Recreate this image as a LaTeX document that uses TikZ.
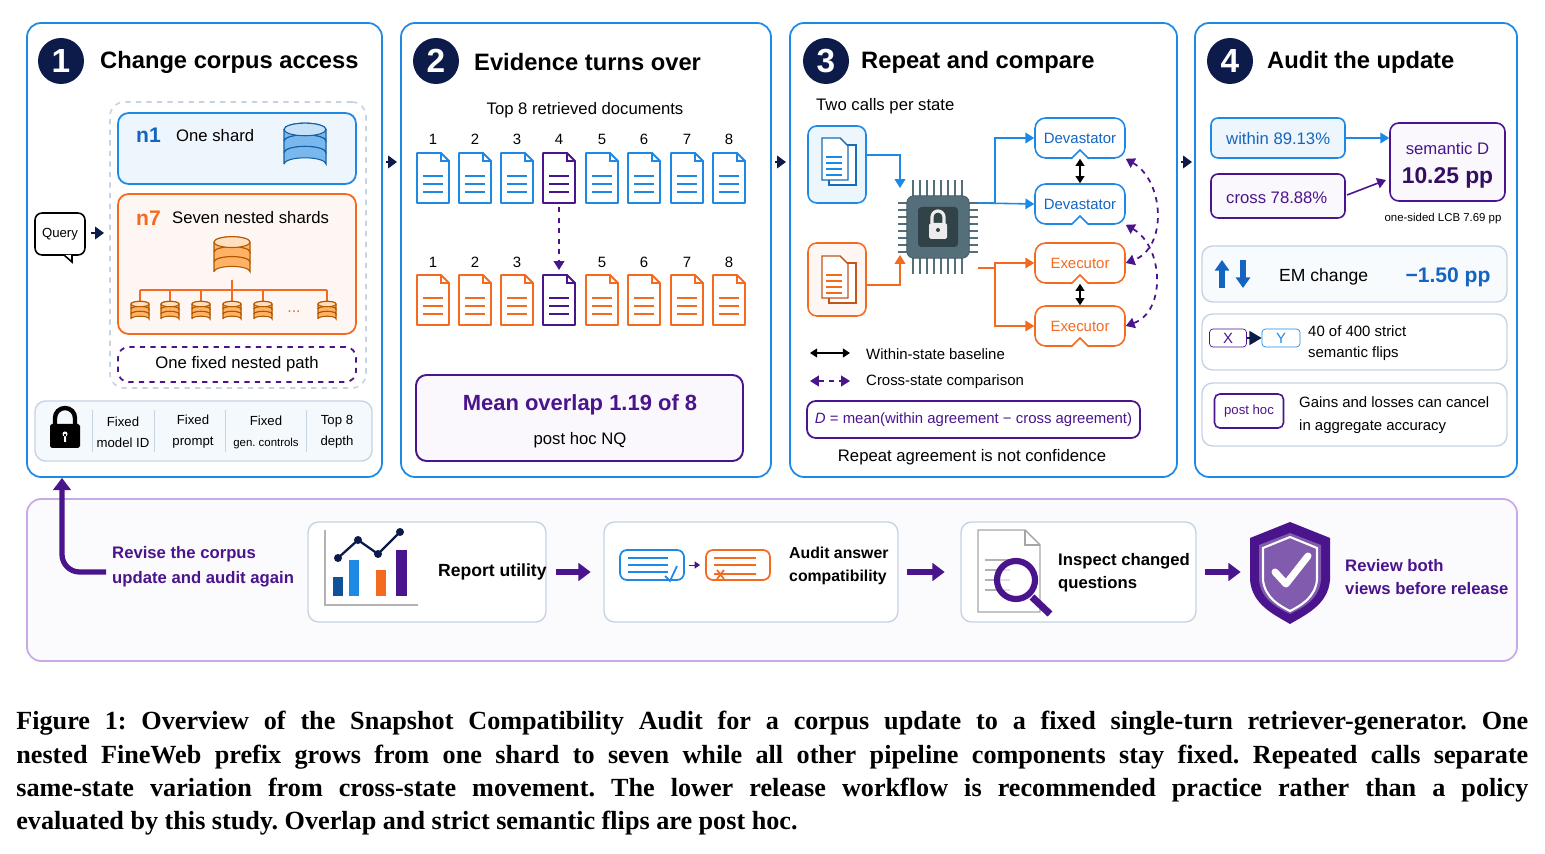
\documentclass[tikz,border=0pt]{standalone}
\usepackage{fontspec}
\setmainfont{Liberation Sans}
\newfontfamily\capfont{Liberation Serif}
\usetikzlibrary{arrows.meta,fit,positioning}
\definecolor{navy}{HTML}{0D1B4A}
\definecolor{pblue}{HTML}{1E88E5}
\definecolor{dblue}{HTML}{1565C0}
\definecolor{porange}{HTML}{F46A1F}
\definecolor{ppurple}{HTML}{4A148C}
\definecolor{lpurple}{HTML}{C9A8E8}
\definecolor{lgray}{HTML}{C5D3E3}
\definecolor{chipgray}{HTML}{546E7A}
\frenchspacing
\tikzset{
    panel/.style = {draw=pblue, line width=1pt, rounded corners=8pt, inner sep=0pt},
    card/.style = {draw=lgray, line width=0.8pt, rounded corners=6pt, inner sep=0pt},
    numdot/.style = {circle, fill=navy, text=white, minimum size=0.92cm, inner sep=0pt, font=\fontsize{19}{19}\selectfont\bfseries},
    ptitle/.style = {anchor=west, font=\fontsize{13.5}{14}\selectfont\bfseries, text=black},
    body/.style = {font=\fontsize{9.5}{11}\selectfont, align=left},
    small/.style = {font=\fontsize{7.5}{12}\selectfont, align=center},
    bubble/.style = {draw, rounded corners=6pt, line width=0.9pt, fill=white, minimum width=1.8cm, minimum height=0.8cm, font=\fontsize{8.5}{10}\selectfont},
    flow/.style = {-{Triangle[length=5pt,width=6pt]}, line width=0.9pt},
    step arrow/.style = {-{Triangle[length=7pt,width=10pt]}, line width=3pt, ppurple},
    hop/.style = {-{Triangle[length=5pt,width=7pt]}, navy, line width=1.2pt},
    bold purple/.style = {font=\fontsize{10}{14}\selectfont\bfseries, text=ppurple, align=left, anchor=west},
    bold black/.style = {font=\fontsize{10}{14}\selectfont\bfseries, align=left, anchor=west},
    pics/doc/.style = {code={
        \draw[#1, line width=1.1pt, fill=white, line join=round] (-16,-25) -- (8,-25) -- (16,-17) -- (16,25) -- (-16,25) -- cycle;
        \draw[#1, line width=0.9pt] (8,-25) -- (8,-17) -- (16,-17);
        \foreach \yy in {-2,6,14} \draw[#1, line width=1.1pt] (-10,\yy) -- (10,\yy);
    }},
    pics/db/.style 2 args = {code={
        \foreach \yy in {2,1,0} {
            \draw[#1!70!black, fill=#1!60, line width=0.6pt] (-#2,\yy*#2*0.55) -- (-#2,\yy*#2*0.55-#2*0.55) arc[start angle=180, end angle=360, x radius=#2, y radius=#2*0.3] -- (#2,\yy*#2*0.55) arc[start angle=0, end angle=-180, x radius=#2, y radius=#2*0.3];
        }
        \draw[#1!70!black, fill=#1!25, line width=0.6pt] (0,-#2*0.55) ellipse[x radius=#2, y radius=#2*0.3];
    }}
}
\begin{document}
\begin{tikzpicture}[x=0.02cm, y=-0.02cm]
\useasboundingbox (0,0) rectangle (1545,854);

% ---- four panels
\node[panel, fit={(27,23) (382,477)}] (p1) {};
\node[panel, fit={(401,23) (771,477)}] (p2) {};
\node[panel, fit={(790,23) (1177,477)}] (p3) {};
\node[panel, fit={(1195,23) (1517,477)}] (p4) {};
\draw[hop] (386,162) -- (397,162);
\draw[hop] (775,162) -- (786,162);
\draw[hop] (1181,162) -- (1192,162);

\node[numdot] (c1) at (61,61) {1};
\node[ptitle] at (94,62) {Change corpus access};
\node[numdot] (c2) at (436,61) {2};
\node[ptitle] at (468,62) {Evidence turns over};
\node[numdot] (c3) at (826,61) {3};
\node[ptitle] at (855,62) {Repeat and compare};
\node[numdot] (c4) at (1230,61) {4};
\node[ptitle] at (1261,62) {Audit the update};

% ---- panel 1
\node[draw=lgray, dashed, line width=0.9pt, rounded corners=8pt, inner sep=0pt, fit={(110,102) (366,388)}] (nest) {};
\node[draw=pblue, fill=pblue!8, line width=1pt, rounded corners=6pt, inner sep=0pt, fit={(118,113) (356,184)}] (n1) {};
\node[anchor=west, text=dblue, font=\fontsize{12}{12}\selectfont\bfseries] at (130,135) {n1};
\node[body, anchor=west] at (170,136) {One shard};
\pic at (305,141) {db={pblue}{21}};
\node[draw=porange, fill=porange!6, line width=1pt, rounded corners=6pt, inner sep=0pt, fit={(118,194) (356,334)}] (n7) {};
\node[anchor=west, text=porange, font=\fontsize{12}{12}\selectfont\bfseries] at (130,218) {n7};
\node[body, anchor=west] at (166,218) {Seven nested shards};
\pic at (232,252) {db={orange}{18}};
\draw[porange, line width=0.9pt] (232,280) -- (232,290) (140,290) -- (327,290);
\foreach \xx in {140,170,201,232,263,327} {
    \draw[porange, line width=0.9pt] (\xx,290) -- (\xx,302);
    \pic at (\xx,309) {db={orange}{9}};
}
\node[text=porange, font=\small] at (294,312) {...};
\node[draw=ppurple, dashed, line width=1pt, rounded corners=6pt, inner sep=0pt, fit={(118,347) (356,382)}] (path) {};
\node[body] at (path) {One fixed nested path};
\node[draw, line width=0.9pt, rounded corners=4pt, minimum width=1cm, minimum height=0.84cm, font=\fontsize{7.5}{8}\selectfont] (query) at (60,234) {Query};
\draw[fill=white, line width=0.9pt] (64,255) -- (72,262) -- (72,255);
\draw[hop] (91,233) -- (104,233);
\node[card, fill=pblue!5, fit={(35,401) (372,461)}] (fixed) {};
\fill[black, rounded corners=1pt] (50,424) rectangle (80,448);
\draw[black, line width=2.5pt] (55,425) -- (55,418) arc[start angle=180, end angle=360, radius=10] -- (75,425);
\fill[white] (65,434) circle (2.5) (64,434) rectangle (66,442);
\foreach \xx in {92,154,225,306} \draw[lgray] (\xx,410) -- (\xx,452);
\node[small] at (123,432) {Fixed\\model ID};
\node[small] at (193,432) {Fixed\\prompt};
\node[small] at (266,432) {Fixed\\{\fontsize{6.5}{8}\selectfont gen. controls}};
\node[small] at (337,432) {Top 8\\depth};

% ---- panel 2
\node[body] at (585,110) {Top 8 retrieved documents};
\foreach \xx [count=\i] in {433,475,517,559,602,644,687,729} {
    \node[small, font=\fontsize{8.5}{9}\selectfont] (top\i) at (\xx,139) {\i};
    \ifnum\i=4
        \pic at (\xx,178) {doc=ppurple};
        \pic at (\xx,300) {doc=ppurple};
    \else
        \node[small, font=\fontsize{8.5}{9}\selectfont] (bot\i) at (\xx,262) {\i};
        \pic at (\xx,178) {doc=pblue};
        \pic at (\xx,300) {doc=porange};
    \fi
}
\coordinate (old4) at (559,207);
\coordinate (new4) at (559,270);
\draw[ppurple, dashed, line width=1pt, -{Triangle[length=5pt,width=6pt]}] (old4) -- (new4);
\node[draw=ppurple, fill=ppurple!3, line width=1.1pt, rounded corners=6pt, inner sep=0pt, fit={(416,375) (743,461)}] (overlap) {};
\node[text=ppurple, font=\fontsize{12.5}{13}\selectfont\bfseries] at (580,405) {Mean overlap 1.19 of 8};
\node[body] at (580,440) {post hoc NQ};

% ---- panel 3
\node[body, anchor=west] at (810,106) {Two calls per state};
\node[draw=pblue, fill=pblue!8, line width=0.9pt, rounded corners=5pt, inner sep=0pt, fit={(808,126) (866,203)}] (bdoc) {};
\node[draw=porange, fill=porange!6, line width=0.9pt, rounded corners=5pt, inner sep=0pt, fit={(808,243) (866,316)}] (odoc) {};
\foreach \c/\yy in {pblue/163, porange/281} {
    \draw[\c!80!black, fill=white, line width=0.8pt] (829,\yy-18) rectangle (856,\yy+22);
    \draw[\c!80!black, fill=white, line width=0.8pt] (822,\yy-25) -- (840,\yy-25) -- (848,\yy-17) -- (848,\yy+17) -- (822,\yy+17) -- cycle;
    \foreach \dy in {-6,0,6,12} \draw[\c, line width=0.8pt] (826,\yy+\dy) -- (842,\yy+\dy);
}
% chip
\foreach \k in {0,...,7} {
    \draw[chipgray, line width=1.1pt] (913+\k*7,180) -- (913+\k*7,198) (913+\k*7,258) -- (913+\k*7,274);
    \draw[chipgray, line width=1.1pt] (898,203+\k*7) -- (912,203+\k*7) (964,203+\k*7) -- (978,203+\k*7);
}
\node[draw=chipgray!80!black, fill=chipgray, rounded corners=4pt, minimum size=1.25cm, inner sep=0pt] (chip) at (938,227) {};
\fill[chipgray!60!black, rounded corners=2pt] (918,207) rectangle (958,247);
\fill[gray!15, rounded corners=1pt] (929,223) rectangle (947,239);
\draw[gray!15, line width=1.8pt] (932,223) -- (932,217) arc[start angle=180, end angle=360, radius=6] -- (944,223);
\fill[chipgray!60!black] (938,230) circle (2);
\node[bubble, draw=pblue, text=dblue] (dev1) at (1080,138) {Devastator};
\node[bubble, draw=pblue, text=dblue] (dev2) at (1080,204) {Devastator};
\node[bubble, draw=porange, text=porange] (exe1) at (1080,263) {Executor};
\node[bubble, draw=porange, text=porange] (exe2) at (1080,326) {Executor};
\foreach \b/\c in {dev1/pblue, dev2/pblue, exe1/porange, exe2/porange}
    \draw[\c, fill=white, line width=0.9pt] ([xshift=-5]\b.south) -- ([yshift=5]\b.south) -- ([xshift=5]\b.south);
\draw[flow, pblue] (bdoc.east |- 0,155) -| (900,188);
\draw[flow, porange] (odoc.east |- 0,285) -| (900,255);
\draw[flow, pblue] (978,203) -| (995,138) -- (dev1.west);
\draw[flow, pblue] (978,203) -- (dev2.west);
\draw[flow, porange] (978,268) -- (995,268) |- (exe1.west);
\draw[flow, porange] (995,268) |- (exe2.west);
\draw[{Triangle[length=4pt,width=5pt]}-{Triangle[length=4pt,width=5pt]}, line width=0.8pt] (dev1.south) -- (dev2.north);
\draw[{Triangle[length=4pt,width=5pt]}-{Triangle[length=4pt,width=5pt]}, line width=0.8pt] (exe1.south) -- (exe2.north);
\draw[ppurple, dashed, line width=1pt, {Triangle[length=5pt,width=6pt]}-{Triangle[length=5pt,width=6pt]}] (dev1.south east) to[out=-30, in=20, looseness=1.1] (exe1.east);
\draw[ppurple, dashed, line width=1pt, {Triangle[length=5pt,width=6pt]}-{Triangle[length=5pt,width=6pt]}] (dev2.south east) to[out=-30, in=20, looseness=1.1] (exe2.east);
\coordinate (lw1) at (810,353); \coordinate (lw2) at (850,353);
\draw[{Triangle[length=4pt,width=5pt]}-{Triangle[length=4pt,width=5pt]}, line width=0.8pt] (lw1) -- (lw2);
\node[body, anchor=west, font=\fontsize{8.5}{10}\selectfont] at (860,354) {Within-state baseline};
\coordinate (lc1) at (810,381); \coordinate (lc2) at (850,381);
\draw[ppurple, dashed, line width=1.1pt, {Triangle[length=5pt,width=6pt]}-{Triangle[length=5pt,width=6pt]}] (lc1) -- (lc2);
\node[body, anchor=west, font=\fontsize{8.5}{10}\selectfont] at (860,382) {Cross-state comparison};
\node[draw=ppurple, line width=1pt, rounded corners=5pt, inner sep=0pt, fit={(807,401) (1140,438)}] (formula) {};
\node[text=ppurple, font=\fontsize{8.5}{10}\selectfont] at (formula) {\textit{D} = mean(within agreement − cross agreement)};
\node[body] at (972,457) {Repeat agreement is not confidence};

% ---- panel 4
\node[draw=pblue, fill=pblue!8, line width=0.9pt, rounded corners=4pt, inner sep=0pt, fit={(1211,118) (1345,158)}] (within) {};
\node[anchor=west, text=dblue, font=\fontsize{9.5}{10}\selectfont] at (1220,139) {within 89.13\%};
\node[draw=ppurple, fill=ppurple!3, line width=0.9pt, rounded corners=4pt, inner sep=0pt, fit={(1211,174) (1345,218)}] (cross) {};
\node[anchor=west, text=ppurple, font=\fontsize{9.5}{10}\selectfont] at (1220,198) {cross 78.88\%};
\node[draw=ppurple, fill=ppurple!3, line width=0.9pt, rounded corners=5pt, inner sep=0pt, fit={(1390,123) (1505,201)}] (semd) {};
\node[text=ppurple, font=\fontsize{9.5}{10}\selectfont] at (semd.center |- 0,149) {semantic D};
\node[text=ppurple!70!black, font=\fontsize{13}{14}\selectfont\bfseries] at (semd.center |- 0,178) {10.25 pp};
\draw[flow, pblue] (within.east) -- (semd.west |- within.east);
\draw[flow, ppurple] (1347,195) -- (1386,180);
\node[font=\fontsize{6.5}{8}\selectfont] at (1443,219) {one-sided LCB 7.69 pp};
\node[card, fill=pblue!3, fit={(1202,246) (1507,302)}] (em) {};
\draw[dblue, line width=3pt, -{Triangle[length=6pt,width=8pt]}] (1222,288) -- (1222,260);
\draw[dblue, line width=3pt, -{Triangle[length=6pt,width=8pt]}] (1243,260) -- (1243,288);
\node[anchor=west, font=\fontsize{10}{11}\selectfont] at (1273,277) {EM change};
\node[text=dblue, font=\fontsize{12}{13}\selectfont\bfseries] at (1448,277) {−1.50 pp};
\node[card, fit={(1202,314) (1507,370)}] (flips) {};
\node[draw=ppurple, fill=white, rounded corners=2pt, minimum width=0.74cm, minimum height=0.36cm, inner sep=0pt, text=ppurple, font=\fontsize{8.5}{9}\selectfont] (xx) at (1228,338) {X};
\node[draw=pblue, fill=white, rounded corners=2pt, minimum width=0.76cm, minimum height=0.36cm, inner sep=0pt, text=pblue, font=\fontsize{8.5}{9}\selectfont] (yy) at (1281,338) {Y};
\draw[-{Triangle[length=7pt,width=8pt]}, line width=1pt, navy] (xx.east) -- (yy.west);
\node[anchor=west, font=\fontsize{8.5}{12}\selectfont, align=left] at (1302,343) {40 of 400 strict\\semantic flips};
\node[card, fit={(1202,383) (1507,446)}] (cancel) {};
\node[draw=ppurple, rounded corners=3pt, line width=0.9pt, minimum width=1.38cm, minimum height=0.68cm, inner sep=0pt, text=ppurple, font=\fontsize{7.5}{8}\selectfont] (ph) at (1249,411) {post hoc};
\node[anchor=west, font=\fontsize{8.5}{13}\selectfont, align=left] at (1293,415) {Gains and losses can cancel\\in aggregate accuracy};

% ---- lower release workflow
\node[draw=lpurple, fill=ppurple!2, line width=1pt, rounded corners=8pt, inner sep=0pt, fit={(27,499) (1517,661)}] (flowbox) {};
\node[bold purple, font=\fontsize{9.5}{14}\selectfont\bfseries] (revise) at (106,567) {Revise the corpus\\update and audit again};
\draw[ppurple, line width=3pt, rounded corners=10pt, -{Triangle[length=7pt,width=10pt]}] (revise.west |- 0,572) -- (62,572) -- (p1.south -| 62,0);
\node[card, fill=white, fit={(308,522) (546,622)}] (s1) {};
\draw[gray!60, line width=1.5pt] (325,530) -- (325,605) -- (418,605);
\fill[dblue!80!black] (333,577) rectangle (343,596);
\fill[pblue] (349,560) rectangle (359,596);
\fill[porange] (376,570) rectangle (386,596);
\fill[ppurple] (396,550) rectangle (407,596);
\draw[navy, line width=1.3pt] (338,558) -- (358,540) -- (378,554) -- (400,532);
\foreach \p in {(338,558),(358,540),(378,554),(400,532)} \fill[navy] \p circle (4);
\node[bold black] at (432,572) {Report utility};
\node[card, fill=white, fit={(604,522) (898,622)}] (s2) {};
\draw[pblue, line width=1pt, rounded corners=4pt, fill=white] (620,550) rectangle (684,580);
\foreach \yy in {558,565,572} \draw[pblue, line width=1pt] (628,\yy) -- (668,\yy);
\draw[pblue, line width=1pt] (665,576) -- (670,581) -- (677,566);
\draw[ppurple, -{Triangle[length=3pt,width=4pt]}] (689,565) -- (700,565);
\draw[porange, line width=1pt, rounded corners=4pt, fill=white] (706,550) rectangle (770,580);
\foreach \yy in {558,565} \draw[porange, line width=1pt] (714,\yy) -- (756,\yy);
\draw[porange, line width=1pt] (714,574) -- (756,574) (717,570) -- (724,579) (724,570) -- (717,579);
\node[bold black, font=\fontsize{9}{13}\selectfont\bfseries] at (783,566) {Audit answer\\compatibility};
\node[card, fill=white, fit={(961,522) (1196,622)}] (s3) {};
\draw[gray!70, fill=white, line width=0.8pt] (978,530) -- (1025,530) -- (1040,545) -- (1040,612) -- (978,612) -- cycle;
\draw[gray!70, line width=0.8pt] (1025,530) -- (1025,545) -- (1040,545);
\foreach \yy in {560,570,580,590} \draw[gray!60, line width=1pt] (985,\yy) -- (1010,\yy);
\draw[ppurple, line width=4pt] (1032,597) -- (1050,614);
\draw[ppurple, line width=3.5pt, fill=white, fill opacity=0.6] (1016,580) circle (19);
\node[bold black, font=\fontsize{9.5}{13}\selectfont\bfseries] at (1052,573) {Inspect changed\\questions};
\draw[step arrow] (s1.east) ++(9,0) -- ++(35,0);
\draw[step arrow] (s2.east) ++(8,0) -- ++(38,0);
\draw[step arrow] (s3.east) ++(8,0) -- ++(36,0);
\fill[ppurple] (1290,522) -- (1330,538) -- (1330,580) .. controls (1328,605) and (1305,615) .. (1290,624) .. controls (1275,615) and (1252,605) .. (1250,580) -- (1250,538) -- cycle;
\fill[ppurple!70!white] (1290,533) -- (1321,545) -- (1321,580) .. controls (1319,600) and (1302,608) .. (1290,614) .. controls (1278,608) and (1261,600) .. (1259,580) -- (1259,545) -- cycle;
\draw[white, line width=1.2pt] (1290,537) -- (1317,548) -- (1317,580) .. controls (1315,598) and (1300,606) .. (1290,611) .. controls (1280,606) and (1265,598) .. (1263,580) -- (1263,548) -- cycle;
\draw[white, line width=4pt, line cap=round, line join=round] (1275,572) -- (1286,584) -- (1308,556);
\node[bold purple, font=\fontsize{9.5}{13}\selectfont\bfseries] (review) at (1339,577) {Review both\\views before release};

% ---- caption
\node[anchor=north west, inner sep=0pt, text width=1512*0.02cm, align=justify, font=\capfont\fontsize{14.9}{19}\selectfont\bfseries] (caption) at (16,711) {Figure 1: Overview of the Snapshot Compatibility Audit for a corpus update to a fixed single-turn retriever-generator. One\linebreak nested FineWeb prefix grows from one shard to seven while all other pipeline components stay fixed. Repeated calls separate\linebreak same-state variation from cross-state movement. The lower release workflow is recommended practice rather than a policy\linebreak evaluated by this study. Overlap and strict semantic flips are post hoc.};
\end{tikzpicture}
\end{document}
